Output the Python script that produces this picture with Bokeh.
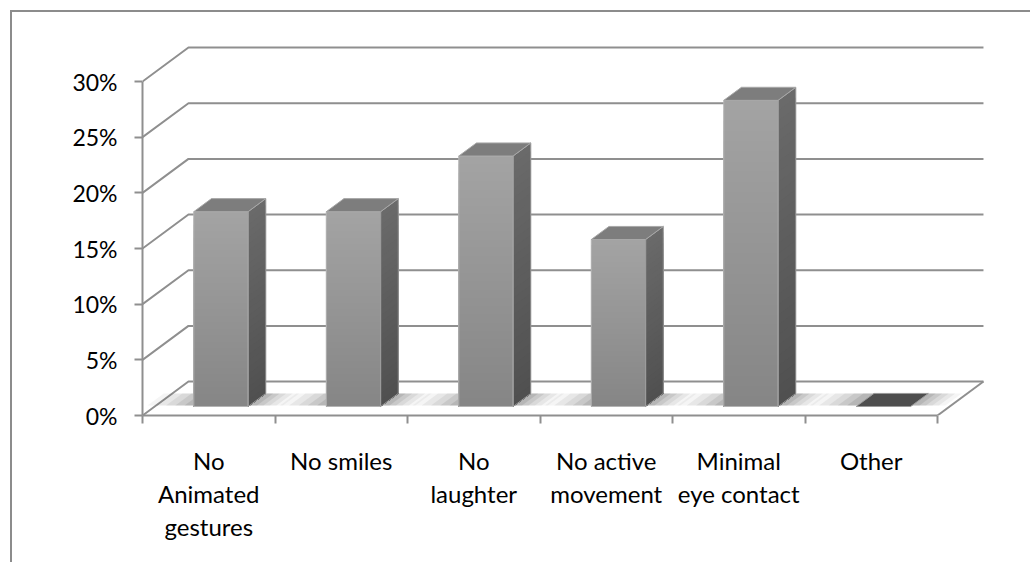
from bokeh.plotting import figure
from bokeh.models import FixedTicker, NumeralTickFormatter, Range1d
from bokeh.embed import file_html
from bokeh.resources import INLINE

# --- data -------------------------------------------------------------
categories = ["No\nAnimated\ngestures", "No smiles", "No\nlaughter",
              "No active\nmovement", "Minimal\neye contact", "Other"]
values = [0.175, 0.175, 0.225, 0.15, 0.275, 0.0]
y_ticks = [0.0, 0.05, 0.10, 0.15, 0.20, 0.25, 0.30]

# --- oblique 3-D geometry (data units) --------------------------------
DX, DY = 0.347, 0.0305      # full depth of the floor
D0, D1 = 0.265, 0.65        # front / back of each column, as fraction of depth
BL, BR = 0.295, 0.705       # column edges inside a category slot
N = len(categories)
YMAX = y_ticks[-1]

FONT = "Lato"
GRID = "#8f8f8f"

p = figure(width=1020, height=552, output_backend="svg", toolbar_location=None,
           x_range=Range1d(0, 858 / 132.5), y_range=Range1d(0, 385 / 1113.3),
           min_border_left=130, min_border_right=32, min_border_top=18,
           min_border_bottom=149)
p.styles = {"margin-left": "10px", "margin-top": "10px",
            "border-left": "2px solid #8c8c8c", "border-top": "2px solid #8c8c8c"}
p.outline_line_color = None
p.xgrid.visible = False
p.ygrid.visible = False
p.background_fill_color = "white"
p.border_fill_color = "white"

# --- walls: gridlines folded onto side wall and back wall -------------
gx, gy = [], []
for t in y_ticks:
    gx.append([0, DX, N + DX])
    gy.append([t, t + DY, t + DY])
gx.append([N, N + DX])
gy.append([0, DY])
p.multi_line(gx, gy, line_color=GRID, line_width=2)


def lerp(c0, c1, f):
    return "#%02x%02x%02x" % tuple(int(round(a + (b - a) * f)) for a, b in zip(c0, c1))


# --- soft shadows on the floor ----------------------------------------
shade_layers = [(0.36, 0.05), (0.29, 0.07), (0.22, 0.08), (0.15, 0.10), (0.08, 0.12)]
for i, v in enumerate(values):
    for grow, alpha in shade_layers:
        xl, xr = i + BL - grow, i + BR + grow * 0.7
        da, db = D0 + 0.03, D1
        p.patch([xl + da * DX, xr + da * DX, xr + db * DX, xl + db * DX],
                [da * DY, da * DY, db * DY, db * DY],
                fill_color="#3a3a3a", fill_alpha=alpha, line_color=None)

# --- columns ----------------------------------------------------------
NB = 30
for i, v in enumerate(values):
    xl, xr = i + BL, i + BR
    y0 = D0 * DY
    if v > 0:
        # shaded faces: nested layers drawn tallest first, so no seams show
        lefts, rights, tops, cols = [], [], [], []
        side_x, side_y, side_c = [], [], []
        for k in range(NB, 0, -1):
            b = k / NB
            f = (k - 0.5) / NB
            lefts.append(xl + D0 * DX)
            rights.append(xr + D0 * DX)
            tops.append(y0 + v * b)
            cols.append(lerp((0x86, 0x86, 0x86), (0xa3, 0xa3, 0xa3), f))
            side_x.append([xr + D0 * DX, xr + D1 * DX, xr + D1 * DX, xr + D0 * DX])
            side_y.append([y0, D1 * DY, D1 * DY + v * b, y0 + v * b])
            side_c.append(lerp((0x50, 0x50, 0x50), (0x6a, 0x6a, 0x6a), f))
        p.quad(left=lefts, right=rights, bottom=[y0] * NB, top=tops,
               fill_color=cols, line_color=None)
        p.patches(side_x, side_y, fill_color=side_c, line_color=None)
        # outlines
        p.patch([xl + D0 * DX, xr + D0 * DX, xr + D0 * DX, xl + D0 * DX],
                [y0, y0, y0 + v, y0 + v], fill_color=None,
                line_color="#b4b4b4", line_width=1)
        p.patch([xr + D0 * DX, xr + D1 * DX, xr + D1 * DX, xr + D0 * DX],
                [y0, D1 * DY, D1 * DY + v, y0 + v], fill_color=None,
                line_color="#9a9a9a", line_width=1)
    # top face
    p.patch([xl + D0 * DX, xr + D0 * DX, xr + D1 * DX, xl + D1 * DX],
            [y0 + v, y0 + v, D1 * DY + v, D1 * DY + v],
            fill_color="#7d7d7d" if v > 0 else "#4e4e4e",
            line_color="#a8a8a8" if v > 0 else "#9a9a9a", line_width=1)

# --- axes -------------------------------------------------------------
ya = p.yaxis[0]
ya.ticker = FixedTicker(ticks=y_ticks, minor_ticks=[])
ya.formatter = NumeralTickFormatter(format="0%")
ya.bounds = (0, YMAX)
ya.axis_line_color = GRID
ya.axis_line_width = 2
ya.major_tick_line_color = GRID
ya.major_tick_line_width = 2
ya.major_tick_out = 8
ya.major_tick_in = 0
ya.major_label_standoff = 17
ya.major_label_text_font = FONT
ya.major_label_text_font_size = "23px"
ya.major_label_text_color = "black"

xa = p.xaxis[0]
centers = [i + 0.5 for i in range(N)]
xa.ticker = FixedTicker(ticks=centers, minor_ticks=list(range(N + 1)))
xa.major_label_overrides = {c: lab for c, lab in zip(centers, categories)}
xa.bounds = (0, N)
xa.axis_line_color = GRID
xa.axis_line_width = 2
xa.major_tick_line_color = None
xa.major_tick_out = 0
xa.major_tick_in = 0
xa.minor_tick_line_color = GRID
xa.minor_tick_line_width = 2
xa.minor_tick_out = 8
xa.minor_tick_in = 0
xa.major_label_standoff = 22
xa.major_label_text_font = FONT
xa.major_label_text_font_size = "24px"
xa.major_label_text_color = "black"
xa.major_label_text_line_height = 1.15

open("out.html", "w").write(file_html(p, INLINE))
